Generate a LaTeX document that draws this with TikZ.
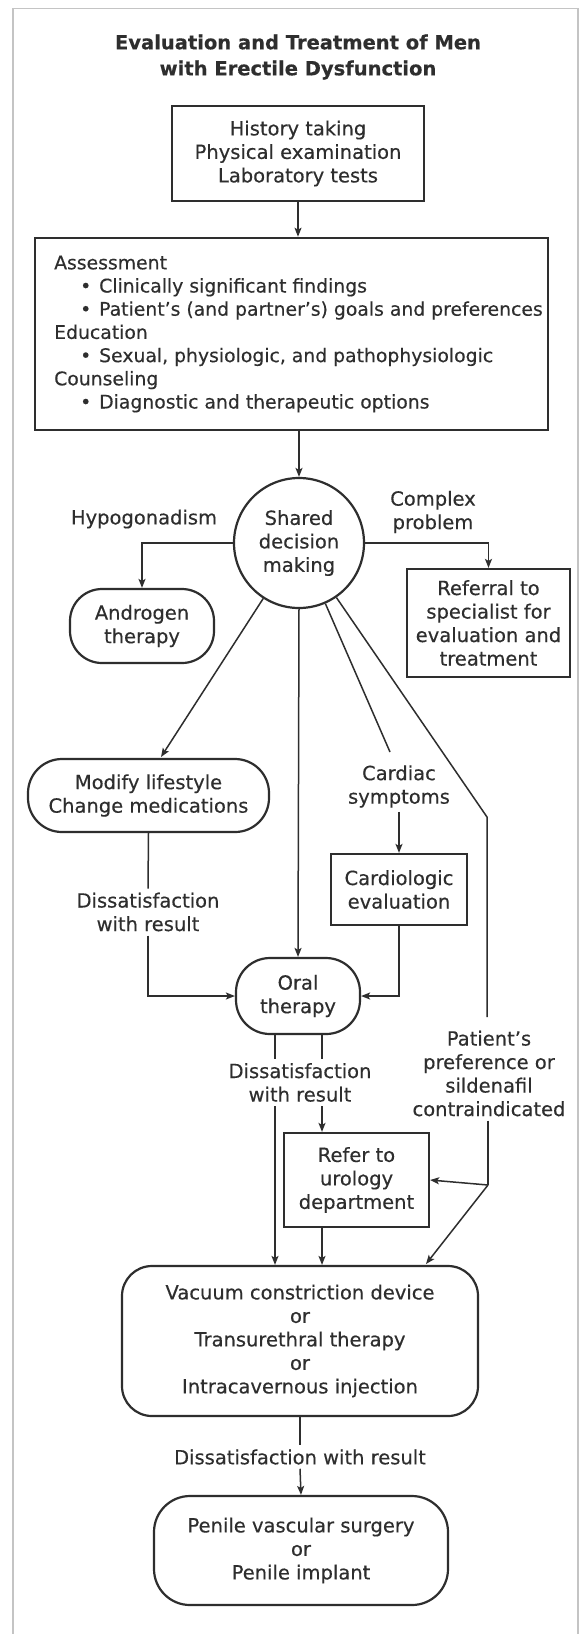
\documentclass[tikz,border=0pt]{standalone}
\usepackage{fontspec}
\setmainfont{DejaVu Sans}[FakeBold=0.35]
\usetikzlibrary{arrows.meta,shapes.geometric}
\definecolor{ink}{HTML}{2E2E2E}
\definecolor{framegray}{HTML}{C4C4C4}
\newcommand{\bul}{\hspace*{26pt}\makebox[19pt][l]{•}}
\begin{document}
\begin{tikzpicture}[x=1pt,y=-1pt,
  txt/.style={font=\fontsize{19.5}{23.5}\selectfont, text=ink, align=center, inner sep=0pt},
  boxn/.style={txt, draw=ink, line width=2.2pt},
  sqbox/.style={boxn, rectangle},
  rbox/.style={boxn, rectangle, rounded corners=#1},
  lab/.style={txt, inner sep=4pt},
  conn/.style={draw=ink, line width=1.5pt},
  arr/.style={conn, -{Stealth[length=9pt,width=7pt,inset=2pt]}}]
\useasboundingbox (0,0) rectangle (580,1634);
\fill[white] (0,0) rectangle (580,1634);
\draw[framegray, line width=1.2pt] (13,1634) -- (13,8.5) -- (578,8.5) -- (578,1634);

\node[txt, font=\fontsize{19.5}{26}\selectfont\bfseries] (title) at (298,57) {Evaluation and Treatment of Men\\with Erectile Dysfunction};
\node[sqbox, minimum width=252pt, minimum height=95pt, line width=2.6pt] (hist) at (298,153.5) {History taking\\Physical examination\\Laboratory tests};
\node[sqbox, minimum width=513pt, minimum height=192pt, line width=2.6pt] (assess) at (291.5,334) {};
\node[txt, anchor=west, align=left, font=\fontsize{18.8}{23.2}\selectfont] (assesstxt) at (54,334) {Assessment\\\bul Clinically significant findings\\\bul Patient’s (and partner’s) goals and preferences\\Education\\\bul Sexual, physiologic, and pathophysiologic\\Counseling\\\bul Diagnostic and therapeutic options};
\node[circle, draw=ink, line width=2.2pt, minimum size=130pt, txt] (sdm) at (299,543) {Shared\\decision\\making};
\node[lab] (hypo) at (144,519) {Hypogonadism};
\node[rbox=32pt, minimum width=144pt, minimum height=74pt] (andro) at (142,626) {Androgen\\therapy};
\node[lab] (complex) at (433,512) {Complex\\problem};
\node[sqbox, minimum width=163pt, minimum height=108pt] (referral) at (488.5,623) {Referral to\\specialist for\\evaluation and\\treatment};
\node[rbox=34pt, minimum width=241pt, minimum height=73pt] (modify) at (148.5,795.5) {Modify lifestyle\\Change medications};
\node[lab] (cardiac) at (399,786.5) {Cardiac\\symptoms};
\node[sqbox, minimum width=136pt, minimum height=71pt] (cardio) at (399,889.5) {Cardiologic\\evaluation};
\node[lab] (diss1) at (148,912) {Dissatisfaction\\with result};
\node[rbox=34pt, minimum width=124pt, minimum height=76pt] (oral) at (298,996) {Oral\\therapy};
\node[lab] (diss2) at (300,1082.5) {Dissatisfaction\\with result};
\node[lab] (patient) at (489,1073.5) {Patient’s\\preference or\\sildenafil\\contraindicated};
\node[sqbox, minimum width=145pt, minimum height=94pt] (refer) at (356.5,1180) {Refer to\\urology\\department};
\node[rbox=30pt, minimum width=356pt, minimum height=150pt] (vcd) at (300,1341) {Vacuum constriction device\\or\\Transurethral therapy\\or\\Intracavernous injection};
\node[lab] (diss3) at (300,1457) {Dissatisfaction with result};
\node[rbox=36pt, minimum width=294pt, minimum height=109pt] (penile) at (301,1550.5) {Penile vascular surgery\\or\\Penile implant};

\coordinate (mtip) at (161,757);
\coordinate (cs) at (390,752);
\coordinate (pbend) at (487,817);
\coordinate (pend) at (487,1017);
\coordinate (pjoin) at (488,1185);
\coordinate (vtip) at (426,1264);
\coordinate (xl) at (275,0);
\coordinate (xr) at (322,0);

\draw[arr] (hist.south) -- (hist.south |- assess.north);
\draw[arr] (assess.south -| sdm) -- (sdm.north);
\draw[arr] (sdm.west) -| (andro.north);
\draw[arr] (sdm.east) -| (referral.north);
\draw[arr] (sdm) -- (mtip);
\draw[arr] (sdm.south) -- (oral.north);
\draw[conn] (sdm) -- (cs);
\draw[conn] (sdm) -- (pbend) -- (pend);
\draw[arr] (cardiac.south -| cardio.north) -- (cardio.north);
\draw[arr] (cardio.south) |- (oral.east);
\draw[conn] (modify.south) -- (diss1.north);
\draw[arr] (diss1.south) |- (oral.west);
\draw[conn] (oral.south -| xl) -- (diss2.north -| xl);
\draw[conn] (oral.south -| xr) -- (diss2.north -| xr);
\draw[arr] (diss2.south -| xl) -- (vcd.north -| xl);
\draw[arr] (diss2.south -| xr) -- (refer.north -| xr);
\draw[arr] (refer.south -| xr) -- (vcd.north -| xr);
\draw[conn] (patient.south -| pjoin) -- (pjoin);
\draw[arr] (pjoin) -- (refer.east);
\draw[arr] (pjoin) -- (vtip);
\draw[conn] (vcd.south) -- (diss3.north);
\draw[arr] (diss3.south) -- (penile.north);
\end{tikzpicture}
\end{document}
